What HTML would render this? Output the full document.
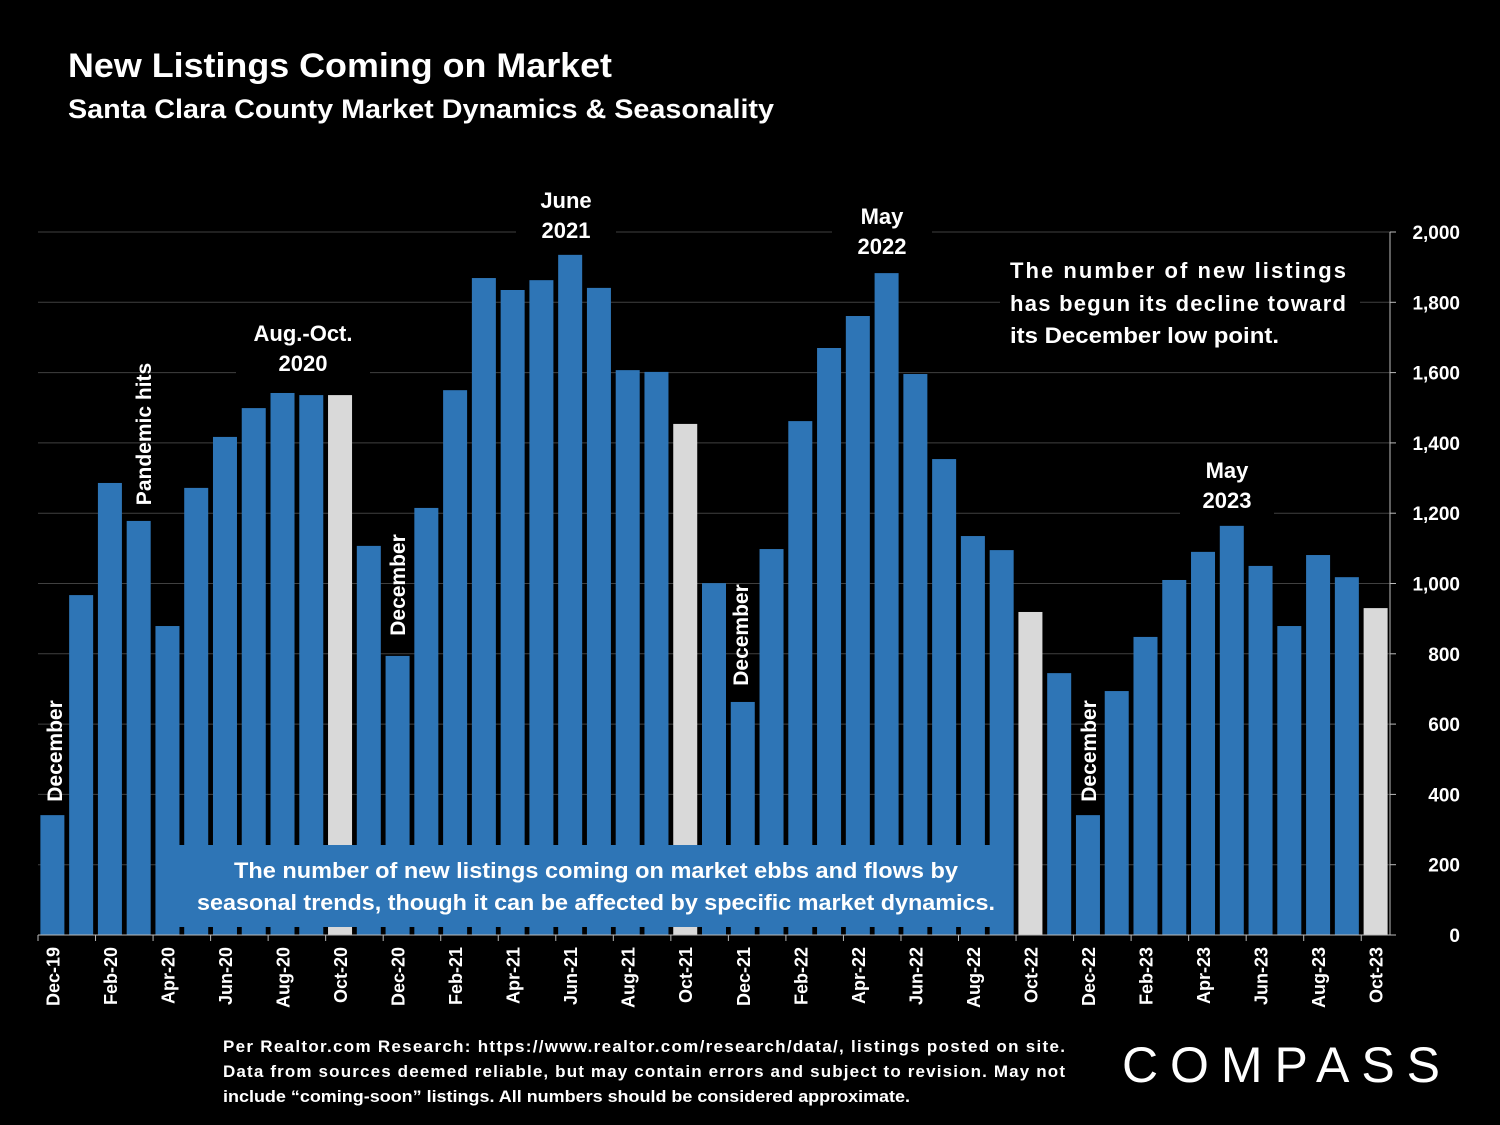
<!DOCTYPE html>
<html><head><meta charset="utf-8"><style>
html,body{margin:0;padding:0;background:#000;}
svg{display:block;font-family:"Liberation Sans",Arial,sans-serif;}
</style></head><body>
<svg id="chart" width="1500" height="1125" viewBox="0 0 1500 1125" xmlns="http://www.w3.org/2000/svg">
<rect width="1500" height="1125" fill="#000"/>
<text x="68" y="77" fill="#fff" font-weight="bold" font-size="34" textLength="544" lengthAdjust="spacingAndGlyphs">New Listings Coming on Market</text>
<text x="68" y="118" fill="#fff" font-weight="bold" font-size="27" textLength="706" lengthAdjust="spacingAndGlyphs">Santa Clara County Market Dynamics &amp; Seasonality</text>
<g id="grid"></g>
<g id="bars"></g>
<g id="yaxis"></g>
<g id="xaxis"></g>
<g fill="#fff" font-weight="bold" font-size="22" text-anchor="middle">
  <rect x="236" y="316" width="134" height="62" fill="#000"/>
  <text x="303" y="341">Aug.-Oct.</text>
  <text x="303" y="371">2020</text>
  <rect x="516" y="183" width="100" height="62" fill="#000"/>
  <text x="566" y="208">June</text>
  <text x="566" y="238">2021</text>
  <rect x="832" y="199" width="100" height="62" fill="#000"/>
  <text x="882" y="224">May</text>
  <text x="882" y="254">2022</text>
  <rect x="1180" y="453" width="94" height="62" fill="#000"/>
  <text x="1227" y="478">May</text>
  <text x="1227" y="508">2023</text>
  <text transform="translate(62,751) rotate(-90)" font-size="21">December</text>
  <text transform="translate(151,434) rotate(-90)" font-size="21">Pandemic hits</text>
  <text transform="translate(405,585) rotate(-90)" font-size="21">December</text>
  <text transform="translate(748,635) rotate(-90)" font-size="21">December</text>
  <text transform="translate(1096,751) rotate(-90)" font-size="21">December</text>
  <g text-anchor="start" font-size="22">
    <rect x="1000" y="250" width="360" height="100" fill="#000"/>
    <text x="1010" y="278" textLength="336" lengthAdjust="spacing">The number of new listings</text>
    <text x="1010" y="311" textLength="336" lengthAdjust="spacing">has begun its decline toward</text>
    <text x="1010" y="343" textLength="269" lengthAdjust="spacingAndGlyphs">its December low point.</text>
  </g>
</g>
<g>
  <rect x="157" y="845" width="856" height="82" fill="#2e75b6"/>
  <text x="596" y="878" fill="#fff" font-weight="bold" font-size="22" text-anchor="middle" textLength="724" lengthAdjust="spacingAndGlyphs">The number of new listings coming on market ebbs and flows by</text>
  <text x="596" y="910" fill="#fff" font-weight="bold" font-size="22" text-anchor="middle" textLength="798" lengthAdjust="spacingAndGlyphs">seasonal trends, though it can be affected by specific market dynamics.</text>
</g>
<g fill="#fff" font-weight="bold" font-size="17">
  <text x="223" y="1052" textLength="842" lengthAdjust="spacing">Per Realtor.com Research:   https://www.realtor.com/research/data/, listings posted on site.</text>
  <text x="223" y="1077" textLength="842" lengthAdjust="spacing">Data from sources deemed reliable, but may contain errors and subject to revision. May not</text>
  <text x="223" y="1102" textLength="687" lengthAdjust="spacingAndGlyphs">include “coming-soon” listings. All numbers should be considered approximate.</text>
</g>
<text x="1122" y="1082" fill="#fff" font-size="50" textLength="318" lengthAdjust="spacing">COMPASS</text>
<script>
const categories=["Dec-19","Jan-20","Feb-20","Mar-20","Apr-20","May-20","Jun-20","Jul-20","Aug-20","Sep-20","Oct-20","Nov-20","Dec-20","Jan-21","Feb-21","Mar-21","Apr-21","May-21","Jun-21","Jul-21","Aug-21","Sep-21","Oct-21","Nov-21","Dec-21","Jan-22","Feb-22","Mar-22","Apr-22","May-22","Jun-22","Jul-22","Aug-22","Sep-22","Oct-22","Nov-22","Dec-22","Jan-23","Feb-23","Mar-23","Apr-23","May-23","Jun-23","Jul-23","Aug-23","Sep-23","Oct-23"];
const newListings=[341,967,1286,1178,879,1272,1417,1499,1542,1536,1536,1107,794,1215,1550,1869,1835,1863,1935,1841,1607,1602,1454,1001,663,1098,1462,1670,1761,1883,1596,1354,1135,1095,919,745,341,694,848,1010,1090,1164,1050,879,1081,1018,930];
const highlighted=["Oct-20","Oct-21","Oct-22","Oct-23"];
const yTicks=[0,200,400,600,800,1000,1200,1400,1600,1800,2000];
const NS="http://www.w3.org/2000/svg";
const y0=935,yTop=232,yMax=2000,x0=38,x1=1390;
const step=(x1-x0)/categories.length;
const yScale=v=>y0-(v/yMax)*(y0-yTop);
const xScale=i=>x0+step*(i+0.5);
function mk(tag,attrs,parent){const e=document.createElementNS(NS,tag);for(const k in attrs)e.setAttribute(k,attrs[k]);parent.appendChild(e);return e;}
const grid=document.getElementById('grid'),bars=document.getElementById('bars'),ya=document.getElementById('yaxis'),xa=document.getElementById('xaxis');
yTicks.forEach(t=>{
  const y=yScale(t);
  if(t>0){const g=mk('line',{x1:x0,x2:x1,y1:y,y2:y,stroke:'#404040','stroke-width':1},grid);
  
  }
  const tk=mk('line',{x1:x1,x2:x1+6,y1:y,y2:y,stroke:'#bbb'},ya);
  
  
  const l=mk('text',{x:1460,y:y+7,fill:'#fff','font-size':19,'font-weight':'bold','text-anchor':'end'},ya);
  l.textContent=t.toLocaleString('en-US');
  
  
});
const ax=mk('line',{x1:x1,x2:x1,y1:yTop,y2:y0,stroke:'#bbb'},ya);


const bw=24;
categories.forEach((c,i)=>{
  const v=newListings[i],x=xScale(i),y=yScale(v);
  const r=mk('rect',{x:x-bw/2,y:y,width:bw,height:y0-y,fill:highlighted.includes(c)?'#d9d9d9':'#2e75b6'},bars);
  
  
  if(i%2===0){
    const t=mk('text',{transform:`translate(${x+7},${y0+12}) rotate(-90)`,fill:'#fff','font-size':18,'font-weight':'bold','text-anchor':'end'},xa);
    t.textContent=c;
    
    
  }
});
for(let i=0;i<=categories.length;i+=2){
  const x=x0+step*i;
  const tk=mk('line',{x1:x,x2:x,y1:y0,y2:y0+6,stroke:'#bbb'},xa);
  
  
}
const bl=mk('line',{x1:x0,x2:x1,y1:y0,y2:y0,stroke:'#bbb'},xa);


</script>
</svg>
</body></html>
